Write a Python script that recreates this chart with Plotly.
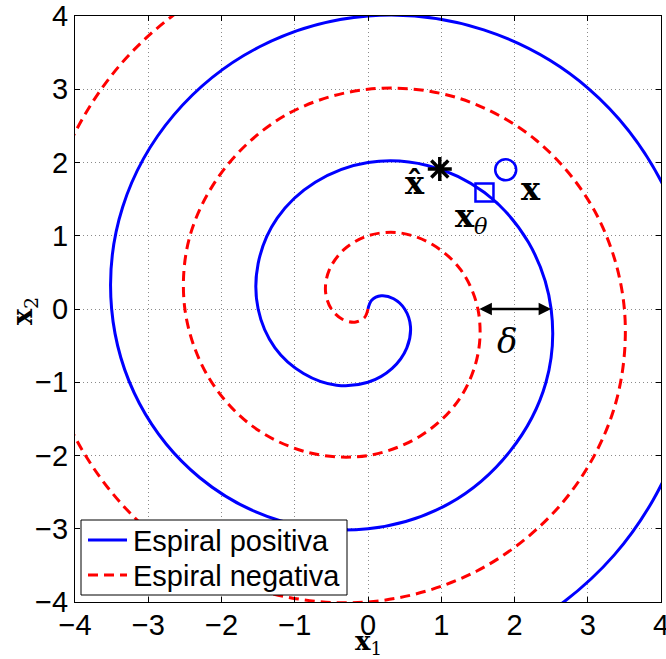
import plotly.graph_objects as go

# Positive spiral, sampled every eighth of a half-turn
pos_x = [0, 0.05, 0.18, 0.35, 0.50, 0.58, 0.53, 0.33, 0, -0.43, -0.88, -1.27, -1.50, -1.50,
         -1.24, -0.72, 0, 0.81, 1.59, 2.19, 2.50, 2.43, 1.94, 1.10, 0, -1.20, -2.30, -3.12,
         -3.50, -3.35, -2.65, -1.48, 0, 1.58, 3.01, 4.04, 4.50, 4.27, 3.36, 1.87, 0]
pos_y = [0, 0.12, 0.18, 0.14, 0, -0.24, -0.53, -0.81, -1.00, -1.04, -0.88, -0.53, 0, 0.62,
         1.24, 1.73, 2.00, 1.96, 1.59, 0.91, 0, -1.00, -1.94, -2.66, -3.00, -2.89, -2.30, -1.29,
         0, 1.39, 2.65, 3.58, 4.00, 3.81, 3.01, 1.67, 0, -1.77, -3.36, -4.50, -5.00]

# Negative spiral
neg_x = [0, -0.05, -0.18, -0.35, -0.50, -0.58, -0.53, -0.33, 0, 0.43, 0.88, 1.27, 1.50, 1.50,
         1.24, 0.72, 0, -0.81, -1.59, -2.19, -2.50, -2.43, -1.94, -1.10, 0, 1.20, 2.30, 3.12,
         3.50, 3.35, 2.65, 1.48, 0, -1.58, -3.01, -4.04, -4.50, -4.27, -3.36, -1.87, 0]
neg_y = [0, -0.12, -0.18, -0.14, 0, 0.24, 0.53, 0.81, 1.00, 1.04, 0.88, 0.53, 0, -0.62,
         -1.24, -1.73, -2.00, -1.96, -1.59, -0.91, 0, 1.00, 1.94, 2.66, 3.00, 2.89, 2.30, 1.29,
         0, -1.39, -2.65, -3.58, -4.00, -3.81, -3.01, -1.67, 0, 1.77, 3.36, 4.50, 5.00]

series_names = ["Espiral positiva", "Espiral negativa"]

# Marked points
x_hat = (0.98, 1.91)
x_theta = (1.59, 1.59)
x_pt = (1.88, 1.90)

# Gap between neighbouring arms along the x1 axis
delta_from, delta_to = 1.5, 2.5

ticks = [-4, -3, -2, -1, 0, 1, 2, 3, 4]

SANS = "Liberation Sans, Arial, sans-serif"
SERIF = "DejaVu Serif, serif"
BLUE = "#0000FF"
RED = "#FF0000"
RED_DASH = "10px,6px"

fig = go.Figure()
fig.add_trace(go.Scatter(x=pos_x, y=pos_y, mode="lines", name=series_names[0],
                         line=dict(color=BLUE, width=3, shape="spline")))
fig.add_trace(go.Scatter(x=neg_x, y=neg_y, mode="lines", name=series_names[1],
                         line=dict(color=RED, width=3, dash=RED_DASH, shape="spline")))

fig.add_trace(go.Scatter(x=[x_hat[0]], y=[x_hat[1]], mode="markers",
                         marker=dict(symbol="asterisk-open", size=20, color="black",
                                     line=dict(color="black", width=3.5))))
fig.add_trace(go.Scatter(x=[x_theta[0]], y=[x_theta[1]], mode="markers",
                         marker=dict(symbol="square-open", size=18, color=BLUE,
                                     line=dict(color=BLUE, width=2.5))))
fig.add_trace(go.Scatter(x=[x_pt[0]], y=[x_pt[1]], mode="markers",
                         marker=dict(symbol="circle-open", size=21, color=BLUE,
                                     line=dict(color=BLUE, width=2.5))))

annotations = [
    dict(x=delta_to, y=0, ax=delta_from, ay=0, xref="x", yref="y", axref="x", ayref="y",
         text="", showarrow=True, arrowhead=2, startarrowhead=2, arrowside="end+start",
         arrowsize=1, startarrowsize=1, arrowwidth=2.5, arrowcolor="black"),
    dict(x=1.90, y=-0.43, xref="x", yref="y", text="<i>δ</i>", showarrow=False,
         xanchor="center", yanchor="middle",
         font=dict(family=SERIF, size=34, color="black")),
    dict(x=0.64, y=1.72, xref="x", yref="y", text="<b>x\u0302</b>", showarrow=False,
         xanchor="center", yanchor="middle",
         font=dict(family=SERIF, size=32, color="black")),
    dict(x=2.23, y=1.64, xref="x", yref="y", text="<b>x</b>", showarrow=False,
         xanchor="center", yanchor="middle",
         font=dict(family=SERIF, size=32, color="black")),
    dict(x=1.41, y=1.24, xref="x", yref="y", text="<b>x</b><sub><i>θ</i></sub>",
         showarrow=False, xanchor="center", yanchor="middle",
         font=dict(family=SERIF, size=32, color="black")),
    # axis titles
    dict(x=(368 - 75) / 586, y=(602 - 642) / 586, xref="paper", yref="paper",
         text="<b>x</b><sub>1</sub>", showarrow=False, xanchor="center", yanchor="middle",
         font=dict(family=SERIF, size=26, color="black")),
    dict(x=(24 - 75) / 586, y=(602 - 311) / 586, xref="paper", yref="paper",
         text="<b>x</b><sub>2</sub>", showarrow=False, textangle=-90,
         xanchor="center", yanchor="middle",
         font=dict(family=SERIF, size=27, color="black")),
]

# Boxed key in the lower-left corner of the axes
def px_x(p):
    return (p - 75) / 586


def px_y(p):
    return (602 - p) / 586


shapes = [
    dict(type="rect", xref="paper", yref="paper", x0=px_x(81), x1=px_x(347),
         y0=px_y(595), y1=px_y(520), fillcolor="white", line=dict(color="black", width=1),
         layer="above"),
    dict(type="line", xref="paper", yref="paper", x0=px_x(88), x1=px_x(127),
         y0=px_y(540), y1=px_y(540), line=dict(color=BLUE, width=3), layer="above"),
    dict(type="line", xref="paper", yref="paper", x0=px_x(88), x1=px_x(127),
         y0=px_y(575), y1=px_y(575), line=dict(color=RED, width=3, dash=RED_DASH),
         layer="above"),
]
for name, yc in zip(series_names, [541, 576]):
    annotations.append(dict(x=px_x(131), y=px_y(yc), xref="paper", yref="paper",
                            text=name, showarrow=False, xanchor="left", yanchor="middle",
                            font=dict(family=SANS, size=29, color="black")))

axis_style = dict(range=[-4, 4], tickvals=ticks,
                  ticktext=[str(t).replace("-", "\u2212") for t in ticks],
                  showline=True, linecolor="black", linewidth=1, mirror="ticks",
                  ticks="inside", ticklen=5, tickcolor="black", tickwidth=1,
                  showgrid=True, gridcolor="#8a8a8a", gridwidth=1, griddash="1px,3px",
                  zeroline=False, ticklabeloverflow="allow", automargin=False,
                  tickfont=dict(family=SANS, size=29, color="black"))

fig.update_layout(
    width=666, height=659,
    margin=dict(l=75, r=5, t=16, b=57, autoexpand=False),
    paper_bgcolor="white", plot_bgcolor="white",
    xaxis=dict(**axis_style, ticklabelstandoff=-3),
    yaxis=dict(**axis_style),
    annotations=annotations,
    shapes=shapes,
    showlegend=False,
)

fig.write_html("out.html")
